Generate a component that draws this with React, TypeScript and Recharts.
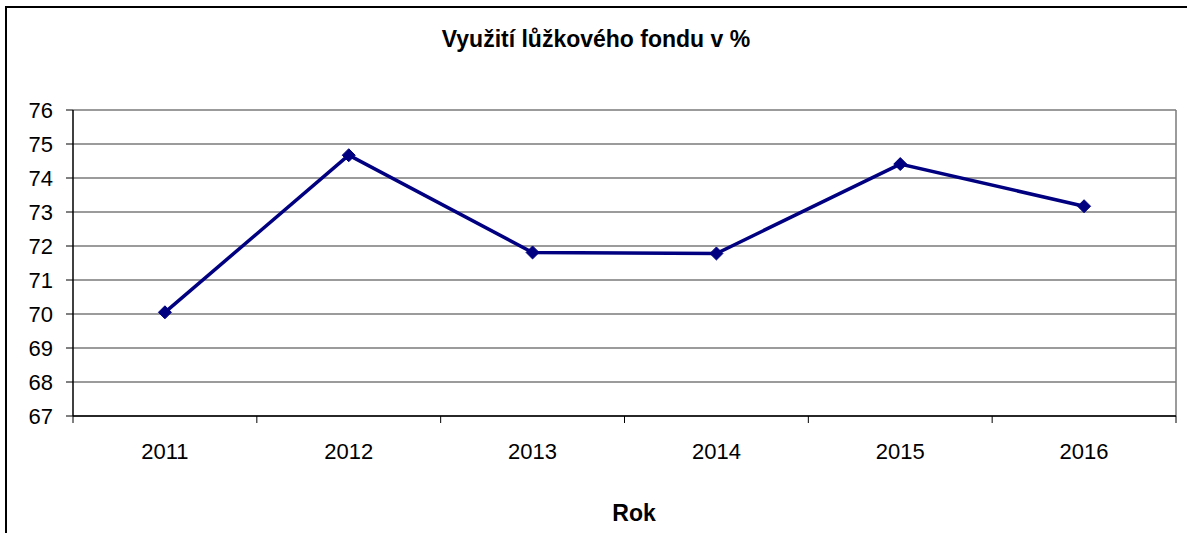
import { LineChart, Line, XAxis, YAxis, CartesianGrid } from 'recharts';

const years = ['2011', '2012', '2013', '2014', '2015', '2016'];
const occupancy = [70.05, 74.67, 71.81, 71.78, 74.41, 73.17];
const yTicks = [67, 68, 69, 70, 71, 72, 73, 74, 75, 76];

const data = years.map((year, i) => ({ year, value: occupancy[i] }));

const W = 1187;
const H = 533;
const MARGIN = { top: 110, right: 11, left: 0, bottom: 0 };
const Y_AXIS_W = 73;
const X_AXIS_H = 117;
const PLOT_W = W - Y_AXIS_W - MARGIN.right - MARGIN.left;
const BAND = PLOT_W / years.length;
const FONT = 'Arial, "Liberation Sans", sans-serif';

function YearTick(props: any) {
  const { x, y, payload, index } = props;
  const last = index === years.length - 1;
  return (
    <g>
      <line x1={x - BAND / 2} x2={x - BAND / 2} y1={y} y2={y + 7} stroke="#000" strokeWidth={1} />
      {last && <line x1={x + BAND / 2} x2={x + BAND / 2} y1={y} y2={y + 7} stroke="#000" strokeWidth={1} />}
      <text x={x} y={y + 43} textAnchor="middle" style={{ fontSize: 22, fontFamily: FONT }} fill="#000">
        {payload.value}
      </text>
    </g>
  );
}

function ValueTick(props: any) {
  const { x, y, payload } = props;
  return (
    <text x={x} y={y + 8} textAnchor="end" style={{ fontSize: 22, fontFamily: FONT }} fill="#000">
      {payload.value}
    </text>
  );
}

function Diamond(props: any) {
  const { cx, cy } = props;
  if (cx == null || cy == null) return null;
  const r = 6.5;
  return (
    <polygon
      points={`${cx},${cy - r} ${cx + r},${cy} ${cx},${cy + r} ${cx - r},${cy}`}
      fill="#000080"
      stroke="#000080"
    />
  );
}

export default function App() {
  return (
    <div style={{ position: 'absolute', left: 0, top: 0, width: W, height: H, background: '#fff', overflow: 'hidden' }}>
      <div
        style={{
          position: 'absolute',
          left: 5,
          top: 6,
          width: W - 5,
          height: H - 6,
          borderLeft: '2px solid #000',
          borderTop: '2px solid #000',
          boxSizing: 'border-box',
        }}
      />
      <div
        style={{
          position: 'absolute',
          left: 0,
          width: 1192,
          top: 25,
          textAlign: 'center',
          fontFamily: FONT,
          fontWeight: 'bold',
          fontSize: 23,
          lineHeight: '28px',
        }}
      >
        Využití lůžkového fondu v %
      </div>
      <div
        style={{
          position: 'absolute',
          left: 534,
          width: 200,
          top: 499,
          textAlign: 'center',
          fontFamily: FONT,
          fontWeight: 'bold',
          fontSize: 23,
          lineHeight: '28px',
        }}
      >
        Rok
      </div>
      <LineChart width={W} height={H} data={data} margin={MARGIN} style={{ position: 'absolute', left: 0, top: 0 }}>
        <CartesianGrid
          stroke="#7a7a7a"
          strokeWidth={1.5}
          vertical={true}
          verticalCoordinatesGenerator={({ offset }: any) => [offset.left + offset.width]}
        />
        <XAxis
          dataKey="year"
          height={X_AXIS_H}
          padding={{ left: BAND / 2, right: BAND / 2 }}
          axisLine={{ stroke: '#000', strokeWidth: 1.5 }}
          tickLine={false}
          tickSize={0}
          tickMargin={0}
          tick={<YearTick />}
          interval={0}
        />
        <YAxis
          width={Y_AXIS_W}
          domain={[67, 76]}
          ticks={yTicks}
          interval={0}
          axisLine={{ stroke: '#000', strokeWidth: 1.5 }}
          tickLine={{ stroke: '#000' }}
          tickSize={7}
          tickMargin={13}
          tick={<ValueTick />}
        />
        <Line
          type="linear"
          dataKey="value"
          stroke="#000080"
          strokeWidth={3.5}
          dot={<Diamond />}
          activeDot={false}
          isAnimationActive={false}
        />
      </LineChart>
    </div>
  );
}
